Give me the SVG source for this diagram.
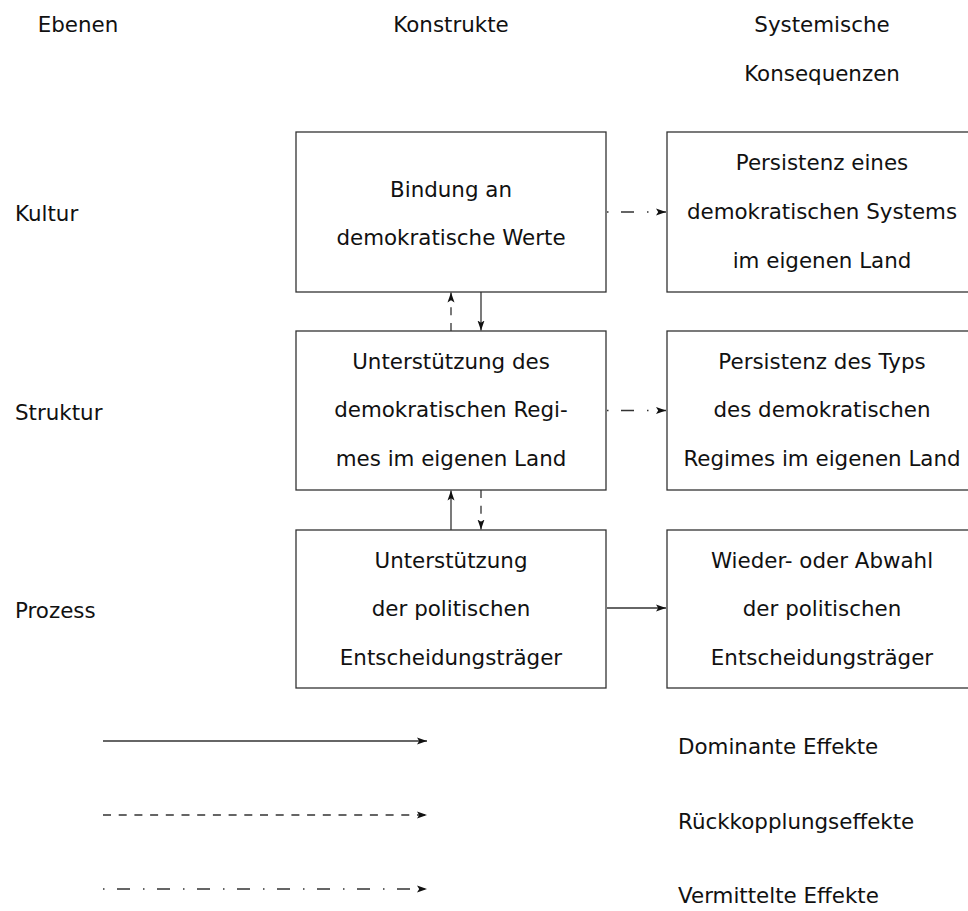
<svg xmlns="http://www.w3.org/2000/svg" width="968" height="911" viewBox="0 0 968 911">
<style>
text{font-family:"DejaVu Sans","Liberation Sans",sans-serif;font-size:21.4px;fill:#111}
.c{text-anchor:middle}
.box{fill:none;stroke:#333;stroke-width:1.3}
.ln{fill:none;stroke:#333;stroke-width:1.3}
.dash{stroke-dasharray:8 7.7}
.dd{stroke-dasharray:1.5 12.5 13 13}
</style>
<defs>
<marker id="ah" markerUnits="userSpaceOnUse" markerWidth="11" markerHeight="9" refX="10" refY="4.5" orient="auto">
<path d="M0,1 L10,4.5 L0,8 L2.2,4.5 z" fill="#111"/>
</marker>
</defs>
<g id="headers">
<text class="c" x="78" y="32">Ebenen</text>
<text class="c" x="451" y="32">Konstrukte</text>
<text class="c" x="822" y="32">Systemische</text>
<text class="c" x="822" y="81">Konsequenzen</text>
</g>
<g id="levels">
<text x="15" y="221">Kultur</text>
<text x="15" y="420">Struktur</text>
<text x="15" y="618">Prozess</text>
</g>
<g id="n1">
<rect class="box" x="296" y="132" width="310" height="160"/>
<text class="c" x="451" y="197">Bindung an</text>
<text class="c" x="451" y="245">demokratische Werte</text>
</g>
<g id="n2">
<rect class="box" x="296" y="331" width="310" height="159"/>
<text class="c" x="451" y="369">Unterstützung des</text>
<text class="c" x="451" y="417">demokratischen Regi-</text>
<text class="c" x="451" y="466">mes im eigenen Land</text>
</g>
<g id="n3">
<rect class="box" x="296" y="530" width="310" height="158"/>
<text class="c" x="451" y="568">Unterstützung</text>
<text class="c" x="451" y="616">der politischen</text>
<text class="c" x="451" y="665">Entscheidungsträger</text>
</g>
<g id="r1">
<rect class="box" x="667" y="132" width="312" height="160"/>
<text class="c" x="822" y="170">Persistenz eines</text>
<text class="c" x="822" y="219">demokratischen Systems</text>
<text class="c" x="822" y="268">im eigenen Land</text>
</g>
<g id="r2">
<rect class="box" x="667" y="331" width="312" height="159"/>
<text class="c" x="822" y="369">Persistenz des Typs</text>
<text class="c" x="822" y="417">des demokratischen</text>
<text class="c" x="822" y="466">Regimes im eigenen Land</text>
</g>
<g id="r3">
<rect class="box" x="667" y="530" width="312" height="158"/>
<text class="c" x="822" y="568">Wieder- oder Abwahl</text>
<text class="c" x="822" y="616">der politischen</text>
<text class="c" x="822" y="665">Entscheidungsträger</text>
</g>
<g id="connectors">
<line class="ln dd" x1="607" y1="212" x2="666" y2="212" marker-end="url(#ah)"/>
<line class="ln dd" x1="607" y1="410.5" x2="666" y2="410.5" marker-end="url(#ah)"/>
<line class="ln" x1="607" y1="608" x2="666" y2="608" marker-end="url(#ah)"/>
<line class="ln dash" x1="451" y1="331" x2="451" y2="292.5" marker-end="url(#ah)"/>
<line class="ln" x1="481" y1="292" x2="481" y2="330.5" marker-end="url(#ah)"/>
<line class="ln" x1="451" y1="530" x2="451" y2="490.5" marker-end="url(#ah)"/>
<line class="ln dash" x1="481" y1="490" x2="481" y2="529.5" marker-end="url(#ah)"/>
</g>
<g id="legend">
<line class="ln" x1="103" y1="741" x2="427" y2="741" marker-end="url(#ah)"/>
<line class="ln dash" x1="103" y1="815" x2="427" y2="815" marker-end="url(#ah)"/>
<line class="ln dd" x1="103" y1="889" x2="427" y2="889" marker-end="url(#ah)"/>
<text x="678" y="754">Dominante Effekte</text>
<text x="678" y="829">Rückkopplungseffekte</text>
<text x="678" y="903">Vermittelte Effekte</text>
</g>
</svg>
